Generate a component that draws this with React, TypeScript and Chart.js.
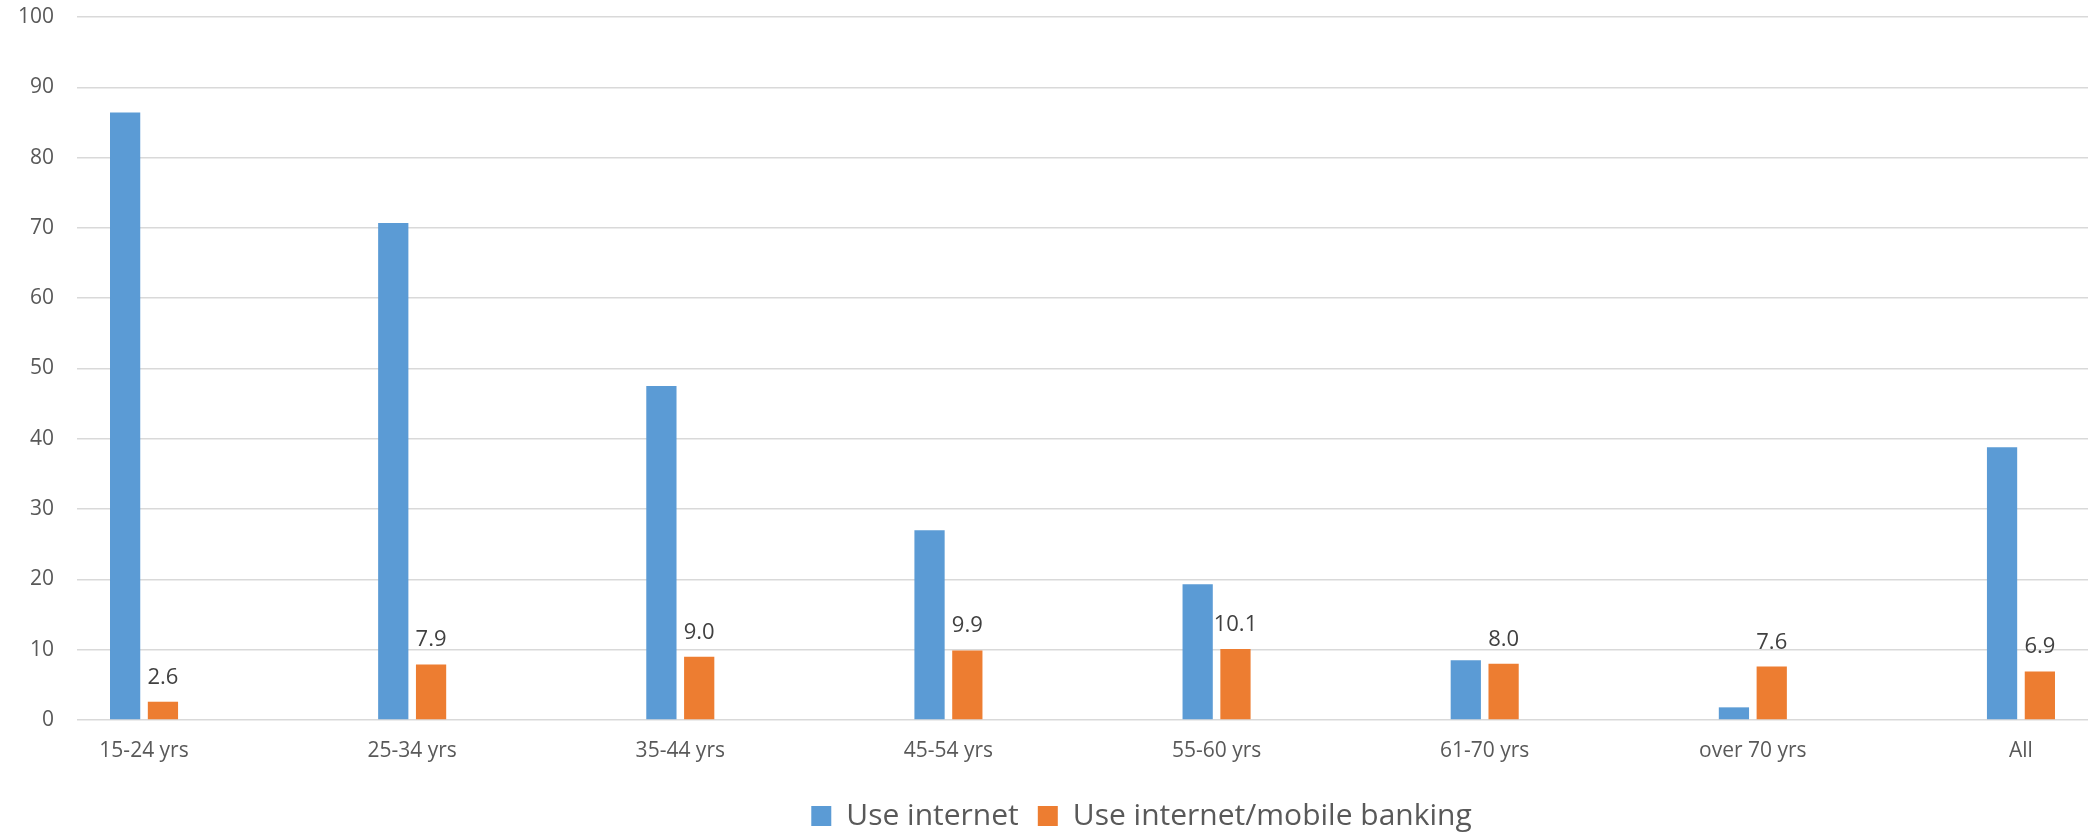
import React, { useEffect, useRef } from "react";
import { Chart, registerables } from "chart.js";

Chart.register(...registerables);

// Age groups shown along the horizontal axis
const categories: string[] = [
  "15-24 yrs",
  "25-34 yrs",
  "35-44 yrs",
  "45-54 yrs",
  "55-60 yrs",
  "61-70 yrs",
  "over 70 yrs",
  "All",
];

// Share of people using the internet (%)
const useInternet: number[] = [86.4, 70.7, 47.5, 27.0, 19.3, 8.5, 1.8, 38.8];

// Share of people using internet/mobile banking (%)
const useBanking: number[] = [2.6, 7.9, 9.0, 9.9, 10.1, 8.0, 7.6, 6.9];

const yTicks: number[] = [0, 10, 20, 30, 40, 50, 60, 70, 80, 90, 100];

const FONT = "'Open Sans', 'Noto Sans', sans-serif";
const BLUE = "#5B9BD5";
const ORANGE = "#ED7D31";

const WIDTH = 2088;
const HEIGHT = 832;
// the canvas runs a little past the visible frame so the legend sits low
const CANVAS_HEIGHT = 841;
// left edge of the band in which the legend is centred
const LEGEND_BAND_LEFT = 195;

// Writes the value above each banking bar
const valueLabels = {
  id: "valueLabels",
  afterDatasetsDraw(chart: any) {
    const { ctx } = chart;
    const meta = chart.getDatasetMeta(1);
    ctx.save();
    ctx.font = `22px ${FONT}`;
    ctx.fillStyle = "#404040";
    ctx.textAlign = "center";
    ctx.textBaseline = "alphabetic";
    meta.data.forEach((bar: any, i: number) => {
      ctx.fillText(useBanking[i].toFixed(1), bar.x, bar.y - 18);
    });
    ctx.restore();
  },
};

// Centres the legend in a narrower band so it sits right of the middle
const legendBand = {
  id: "legendBand",
  afterLayout(chart: any) {
    if (chart.legend) chart.legend.left = LEGEND_BAND_LEFT;
  },
};

export default function App() {
  const canvasRef = useRef<HTMLCanvasElement | null>(null);

  useEffect(() => {
    if (!canvasRef.current) return;
    const toPoints = (vals: number[]) => vals.map((y, x) => ({ x, y }));

    const chart = new Chart(canvasRef.current, {
      type: "bar",
      data: {
        datasets: [
          {
            label: "Use internet",
            data: toPoints(useInternet),
            backgroundColor: BLUE,
            borderWidth: 0,
          },
          {
            label: "Use internet/mobile banking",
            data: toPoints(useBanking),
            backgroundColor: ORANGE,
            borderWidth: 0,
          },
        ],
      },
      options: {
        animation: false,
        responsive: false,
        layout: { padding: { top: 17, left: 0, right: 0, bottom: 0 } },
        datasets: {
          bar: { categoryPercentage: 0.282, barPercentage: 0.8 },
        },
        scales: {
          x: {
            type: "linear",
            offset: false,
            min: -0.25,
            max: 7.25,
            grid: { display: false, offset: false },
            border: { display: false },
            afterFit: (scale: any) => {
              scale.height = 62;
            },
            afterBuildTicks: (scale: any) => {
              scale.ticks = categories.map((_, i) => ({ value: i }));
            },
            ticks: {
              padding: 10,
              maxRotation: 0,
              autoSkip: false,
              color: "#595959",
              font: { family: FONT, size: 21 },
              callback: (v: any) =>
                Number.isInteger(v) ? categories[v] ?? "" : "",
            },
          },
          y: {
            min: 0,
            max: 100,
            afterFit: (scale: any) => {
              scale.width = 77;
              scale.paddingTop = 0;
              scale.paddingBottom = 0;
            },
            afterBuildTicks: (scale: any) => {
              scale.ticks = yTicks.map((v) => ({ value: v }));
            },
            grid: {
              color: "#D9D9D9",
              lineWidth: 1.5,
              drawTicks: false,
            },
            border: { display: false },
            ticks: {
              padding: 23,
              color: "#595959",
              font: { family: FONT, size: 21 },
            },
          },
        },
        plugins: {
          legend: {
            position: "bottom",
            labels: {
              boxWidth: 20,
              boxHeight: 20,
              padding: 19,
              color: "#595959",
              font: { family: FONT, size: 30 },
            },
          },
          tooltip: { enabled: false },
        },
      },
      plugins: [valueLabels, legendBand],
    });

    return () => chart.destroy();
  }, []);

  return (
    <div
      style={{
        position: "fixed",
        left: 0,
        top: 0,
        width: WIDTH,
        height: HEIGHT,
        overflow: "hidden",
        background: "#ffffff",
      }}
    >
      <canvas
        ref={canvasRef}
        width={WIDTH}
        height={CANVAS_HEIGHT}
        style={{ display: "block", width: WIDTH, height: CANVAS_HEIGHT }}
      />
    </div>
  );
}
